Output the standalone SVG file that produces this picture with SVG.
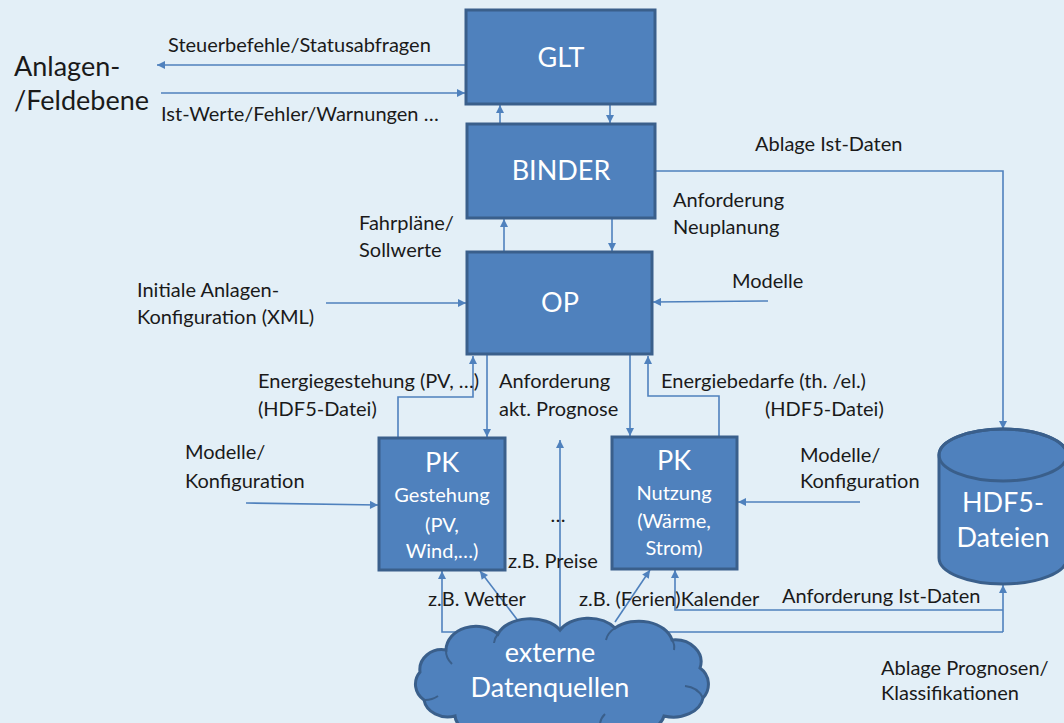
<svg xmlns="http://www.w3.org/2000/svg" width="1064" height="723" viewBox="0 0 1064 723">
<defs>
<marker id="ah" viewBox="0 0 10 10" refX="10" refY="5" markerWidth="9" markerHeight="8" markerUnits="userSpaceOnUse" orient="auto">
<path d="M0,0 L10,5 L0,10 z" fill="#4F81BD"/>
</marker>
<style>
.bg{fill:#E3EFF7}
.box{fill:#4F81BD;stroke:#3A5F8B;stroke-width:3}
.ln{fill:none;stroke:#4F81BD;stroke-width:1.6}
.arr{marker-end:url(#ah)}
.inner{fill:none;stroke:#3A5F8B;stroke-width:2}
.lbl{font-family:Lato,"Liberation Sans",sans-serif;font-size:20px;fill:#1a1a1a}
.big{font-family:Lato,"Liberation Sans",sans-serif;font-size:27px;fill:#1a1a1a}
.t{font-family:Lato,"Liberation Sans",sans-serif;fill:#ffffff;text-anchor:middle}
.t28{font-size:27px}
.t21{font-size:20px}
</style>
</defs>
<rect class="bg" x="0" y="0" width="1064" height="723"/>

<g id="connectors">
<line class="ln arr" x1="466" y1="65" x2="157" y2="65"/>
<line class="ln arr" x1="161" y1="93" x2="465" y2="93"/>
<line class="ln arr" x1="500" y1="124" x2="500" y2="105"/>
<line class="ln arr" x1="610" y1="105" x2="610" y2="123"/>
<line class="ln arr" x1="504" y1="252" x2="504" y2="219"/>
<line class="ln arr" x1="612" y1="218" x2="612" y2="251"/>
<polyline class="ln arr" points="655,171 1003,171 1003,429"/>
<line class="ln arr" x1="326" y1="303" x2="466" y2="303"/>
<line class="ln arr" x1="768" y1="301" x2="653" y2="302"/>
<polyline class="ln arr" points="398,438 398,397 473,397 473,356"/>
<line class="ln arr" x1="487" y1="355" x2="487" y2="437"/>
<polyline class="ln arr" points="719,437 719,396 648,396 648,356"/>
<line class="ln arr" x1="630" y1="355" x2="630" y2="436"/>
<line class="ln arr" x1="246" y1="503" x2="378" y2="505"/>
<line class="ln arr" x1="860" y1="502" x2="738" y2="502"/>
<line class="ln arr" x1="560" y1="630" x2="560" y2="440"/>
<line class="ln arr" x1="519" y1="622" x2="480" y2="571"/>
<line class="ln arr" x1="615" y1="622" x2="650" y2="570"/>
<polyline class="ln arr" points="1003,610 675,610 675,570"/>
<polyline class="ln arr" points="1003,632 442,632 442,571"/>
<line class="ln arr" x1="1003" y1="632" x2="1003" y2="585"/>
</g>

<g id="glt">
<rect class="box" x="466" y="10" width="189" height="94"/>
<text class="t t28" x="561" y="67">GLT</text>
</g>
<g id="binder">
<rect class="box" x="467" y="124" width="188" height="94"/>
<text class="t t28" x="561" y="180">BINDER</text>
</g>
<g id="op">
<rect class="box" x="467" y="252" width="185" height="102"/>
<text class="t t28" x="560" y="312">OP</text>
</g>
<g id="pk-gestehung">
<rect class="box" x="379" y="438" width="126" height="132"/>
<text class="t t28" x="442" y="472">PK</text>
<text class="t t21" x="442" y="502">Gestehung</text>
<text class="t t21" x="442" y="532">(PV,</text>
<text class="t t21" x="442" y="558">Wind,…)</text>
</g>
<g id="pk-nutzung">
<rect class="box" x="612" y="437" width="125" height="132"/>
<text class="t t28" x="674" y="470">PK</text>
<text class="t t21" x="674" y="500">Nutzung</text>
<text class="t t21" x="674" y="528">(Wärme,</text>
<text class="t t21" x="674" y="555">Strom)</text>
</g>
<g id="hdf5">
<path class="box" d="M939,455 L939,558 A64,26 0 0 0 1067,558 L1067,455 A64,26 0 0 0 939,455 Z"/>
<ellipse cx="1003" cy="455" rx="64" ry="26" fill="none" stroke="#3A5F8B" stroke-width="3"/>
<text class="t t28" x="1003" y="512">HDF5-</text>
<text class="t t28" x="1003" y="547">Dateien</text>
</g>
<g id="externe-datenquellen">
<path class="box" d="M446,650 A30,24 0 0 1 498,634 A34,22 0 0 1 560,630 A32,22 0 0 1 615,628 A34,24 0 0 1 672,640 A26,22 0 0 1 700,668 A20,20 0 0 1 703,698 A30,22 0 0 1 664,716 A36,22 0 0 1 600,726 A40,24 0 0 1 522,726 A36,22 0 0 1 455,716 A24,20 0 0 1 424,700 A22,20 0 0 1 420,672 A22,20 0 0 1 446,650 Z"/>
<path class="inner" d="M446,650 A24,20 0 0 0 452,664"/>
<path class="inner" d="M498,634 A28,20 0 0 0 494,643"/>
<path class="inner" d="M615,628 A26,20 0 0 0 606,640"/>
<path class="inner" d="M672,640 A20,16 0 0 1 674,650"/>
<path class="inner" d="M703,698 A22,20 0 0 0 685,686"/>
<path class="inner" d="M600,726 A30,20 0 0 1 605,714"/>
<path class="inner" d="M424,700 A20,16 0 0 0 438,696"/>
<text class="t t28" x="550" y="662">externe</text>
<text class="t t28" x="550" y="697">Datenquellen</text>
</g>

<g id="labels">
<text class="big" x="14" y="76">Anlagen-</text>
<text class="big" x="14" y="110">/Feldebene</text>
<text class="lbl" x="168" y="52">Steuerbefehle/Statusabfragen</text>
<text class="lbl" x="161" y="121">Ist-Werte/Fehler/Warnungen …</text>
<text class="lbl" x="755" y="151">Ablage Ist-Daten</text>
<text class="lbl" x="673" y="207">Anforderung</text>
<text class="lbl" x="673" y="234">Neuplanung</text>
<text class="lbl" x="732" y="288">Modelle</text>
<text class="lbl" x="359" y="230">Fahrpläne/</text>
<text class="lbl" x="359" y="257">Sollwerte</text>
<text class="lbl" x="137" y="297">Initiale Anlagen-</text>
<text class="lbl" x="137" y="324">Konfiguration (XML)</text>
<text class="lbl" x="258" y="388">Energiegestehung (PV, …)</text>
<text class="lbl" x="258" y="416">(HDF5-Datei)</text>
<text class="lbl" x="499" y="388">Anforderung</text>
<text class="lbl" x="499" y="416">akt. Prognose</text>
<text class="lbl" x="661" y="388">Energiebedarfe (th. /el.)</text>
<text class="lbl" x="765" y="416">(HDF5-Datei)</text>
<text class="lbl" x="185" y="459">Modelle/</text>
<text class="lbl" x="185" y="488">Konfiguration</text>
<text class="lbl" x="800" y="462">Modelle/</text>
<text class="lbl" x="800" y="488">Konfiguration</text>
<text class="lbl" x="558" y="522" text-anchor="middle">…</text>
<text class="lbl" x="508" y="568">z.B. Preise</text>
<text class="lbl" x="428" y="606">z.B. Wetter</text>
<text class="lbl" x="579" y="606">z.B. (Ferien)Kalender</text>
<text class="lbl" x="782" y="603">Anforderung Ist-Daten</text>
<text class="lbl" x="881" y="675">Ablage Prognosen/</text>
<text class="lbl" x="881" y="700">Klassifikationen</text>
</g>
</svg>
